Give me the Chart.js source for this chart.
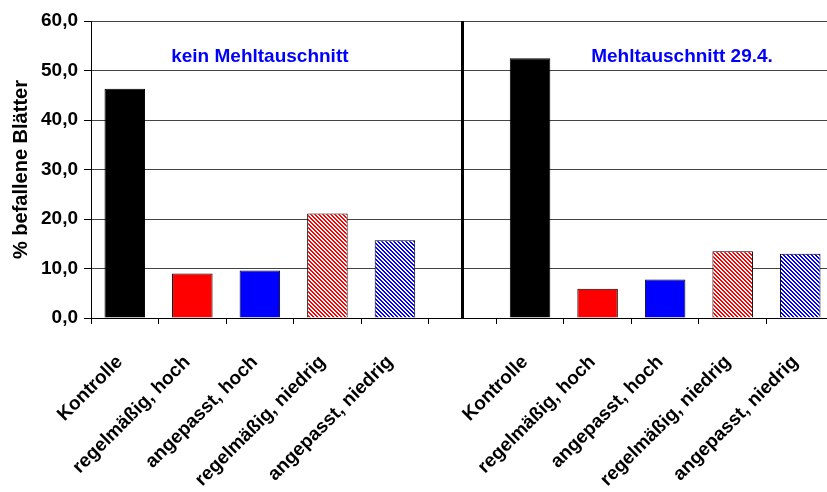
<!DOCTYPE html>
<html>
<head>
<meta charset="utf-8">
<script src="https://cdn.jsdelivr.net/npm/chart.js@4/dist/chart.umd.min.js"></script>
<style>
  html, body { margin: 0; padding: 0; background: #fff; overflow: hidden; }
  canvas { display: block; }
</style>
</head>
<body>
<canvas id="chart" width="834" height="492"></canvas>
<script>
// categories: two groups of five treatments, an empty slot in between
const categories = [
  'Kontrolle', 'regelmäßig, hoch', 'angepasst, hoch', 'regelmäßig, niedrig', 'angepasst, niedrig',
  '',
  'Kontrolle', 'regelmäßig, hoch', 'angepasst, hoch', 'regelmäßig, niedrig', 'angepasst, niedrig',
];
const befallValues = [46.3, 9.0, 9.6, 21.1, 15.7, null, 52.5, 5.9, 7.8, 13.5, 13.0];
const groupTitles = ['kein Mehltauschnitt', 'Mehltauschnitt 29.4.'];
const yTicks = [0, 10, 20, 30, 40, 50, 60];

const FONT = 'Arial, "Liberation Sans", sans-serif';

// excel-like diagonal hatch
function hatch(color) {
  const c = document.createElement('canvas');
  c.width = 4;
  c.height = 4;
  const ctx = c.getContext('2d');
  ctx.fillStyle = '#fff';
  ctx.fillRect(0, 0, 4, 4);
  ctx.fillStyle = color;
  for (let i = 0; i < 4; i += 1) {
    ctx.fillRect(i, i, 1, 1);
    ctx.fillRect((i + 1) % 4, i, 1, 1);
  }
  return ctx.createPattern(c, 'repeat');
}

const fills = ['#000000', '#ff0000', '#0000ff', hatch('#ff0000'), hatch('#0000ff')];
const barColors = categories.map((c, i) => {
  if (i === 5) return 'rgba(0,0,0,0)';
  return fills[i > 5 ? i - 6 : i];
});

// divider line in the empty slot + group titles
const decorations = {
  id: 'decorations',
  afterDatasetsDraw(chart) {
    const { ctx, chartArea, scales: { x } } = chart;
    ctx.save();
    const xm = x.getPixelForValue(5);
    ctx.strokeStyle = '#000';
    ctx.lineWidth = 3;
    ctx.beginPath();
    ctx.moveTo(xm, chartArea.top);
    ctx.lineTo(xm, chartArea.bottom);
    ctx.stroke();

    ctx.fillStyle = '#0000ff';
    ctx.font = `bold 19px ${FONT}`;
    ctx.textAlign = 'center';
    ctx.textBaseline = 'alphabetic';
    ctx.fillText(groupTitles[0], x.getPixelForValue(2), 62);
    ctx.fillText(groupTitles[1], x.getPixelForValue(8.25), 62);
    ctx.restore();
  },
};

new Chart(document.getElementById('chart'), {
  type: 'bar',
  data: {
    labels: categories,
    datasets: [{
      data: befallValues,
      backgroundColor: barColors,
      borderColor: '#000',
      borderWidth: 1,
      categoryPercentage: 0.6,
      barPercentage: 1,
    }],
  },
  options: {
    responsive: false,
    animation: false,
    layout: { padding: { top: 21, right: 0, left: 0, bottom: 0 } },
    plugins: {
      legend: { display: false },
      tooltip: { enabled: false },
    },
    scales: {
      x: {
        grid: {
          drawOnChartArea: false,
          color: '#000',
          tickLength: 6,
          offset: true,
        },
        border: { color: '#000', width: 1 },
        ticks: {
          color: '#000',
          font: { family: FONT, size: 19, weight: 'bold' },
          minRotation: 45,
          maxRotation: 45,
          autoSkip: false,
          padding: 27,
          labelOffset: -5,
        },
        afterFit: (s) => {
          s.height = 174;
          s.paddingLeft = 0;
          s.paddingRight = 0;
        },
      },
      y: {
        min: 0,
        max: 60,
        afterBuildTicks: (s) => { s.ticks = yTicks.map((v) => ({ value: v })); },
        grid: {
          color: '#444',
          tickColor: '#000',
          tickLength: 7,
        },
        border: { color: '#000', width: 1 },
        ticks: {
          color: '#000',
          font: { family: FONT, size: 19, weight: 'bold' },
          padding: 6,
          callback: (v) => v.toFixed(1).replace('.', ','),
        },
        title: {
          display: true,
          text: '% befallene Blätter',
          color: '#000',
          font: { family: FONT, size: 20, weight: 'bold' },
          padding: { top: 9, bottom: 0 },
        },
        afterFit: (s) => { s.width = 91; },
      },
    },
  },
  plugins: [decorations],
});
</script>
</body>
</html>
